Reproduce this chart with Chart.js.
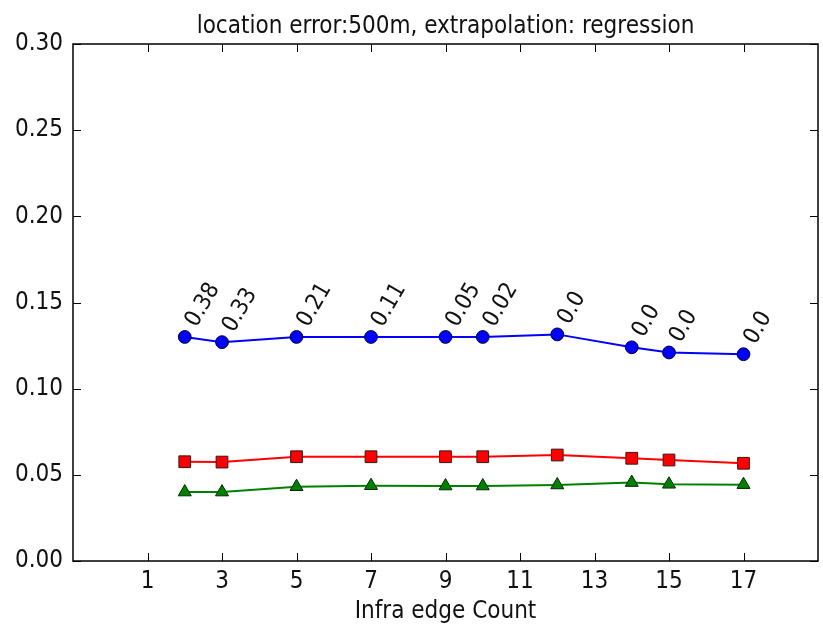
<!DOCTYPE html>
<html>
<head>
<meta charset="utf-8">
<script src="https://cdn.jsdelivr.net/npm/chart.js@4/dist/chart.umd.min.js"></script>
<style>
  html, body { margin: 0; padding: 0; background: #fff; }
  #wrap { width: 823px; height: 630px; }
</style>
</head>
<body>
<div id="wrap"><canvas id="myChart" width="823" height="630"></canvas></div>
<script>
// values
const edgeCounts = [2, 3, 5, 7, 9, 10, 12, 14, 15, 17];
const blueErr  = [0.130, 0.127, 0.130, 0.130, 0.130, 0.130, 0.1315, 0.124, 0.121, 0.120];
const redErr   = [0.0576, 0.0574, 0.0605, 0.0605, 0.0605, 0.0605, 0.0615, 0.0596, 0.0586, 0.0567];
const greenErr = [0.0400, 0.0400, 0.0431, 0.0437, 0.0435, 0.0435, 0.0441, 0.0455, 0.0445, 0.0443];
const pointLabels = ['0.38', '0.33', '0.21', '0.11', '0.05', '0.02', '0.0', '0.0', '0.0', '0.0'];
const xTickValues = [1, 3, 5, 7, 9, 11, 13, 15, 17];
const yTickValues = [0, 0.05, 0.10, 0.15, 0.20, 0.25, 0.30];
const chartTitle = 'location error:500m, extrapolation: regression';

const FONT = '"DejaVu Sans Condensed", "DejaVu Sans"';
const TEXT = '#111';

function coordinate(x, y) {
    this.x = x;
    this.y = y;
}

function makePoints(ys) {
    var pts = new Array();
    for (let i = 0; i < edgeCounts.length; i++) {
        pts.push(new coordinate(edgeCounts[i], ys[i]));
    }
    return pts;
}

// matplotlib style frame with inward ticks, title centred over the axes
const framePlugin = {
    id: 'frame',
    afterDatasetsDraw(chart) {
        const c = chart.ctx;
        const a = chart.chartArea;
        const xs = chart.scales.x, ys = chart.scales.y;
        c.save();
        c.strokeStyle = '#000';
        c.lineWidth = 1.5;
        c.strokeRect(a.left, a.top, a.right - a.left, a.bottom - a.top);
        c.lineWidth = 1;
        c.beginPath();
        xTickValues.forEach(v => {
            const px = Math.round(xs.getPixelForValue(v)) + 0.5;
            c.moveTo(px, a.bottom); c.lineTo(px, a.bottom - 8);
            c.moveTo(px, a.top); c.lineTo(px, a.top + 8);
        });
        yTickValues.forEach(v => {
            const py = Math.round(ys.getPixelForValue(v)) + 0.5;
            c.moveTo(a.left, py); c.lineTo(a.left + 8, py);
            c.moveTo(a.right, py); c.lineTo(a.right - 8, py);
        });
        c.stroke();

        c.font = '24px ' + FONT;
        c.fillStyle = TEXT;
        c.textAlign = 'center';
        c.textBaseline = 'alphabetic';
        c.fillText(chartTitle, (a.left + a.right) / 2, a.top - 11);
        c.restore();
    }
};

// rotated value labels above the blue line
const labelPlugin = {
    id: 'rotLabels',
    afterDatasetsDraw(chart) {
        const c = chart.ctx;
        const meta = chart.getDatasetMeta(0);
        const ang = 60 * Math.PI / 180;
        const h = 17;
        c.save();
        c.font = '23px ' + FONT;
        c.fillStyle = TEXT;
        c.textAlign = 'left';
        c.textBaseline = 'alphabetic';
        meta.data.forEach((pt, i) => {
            c.save();
            c.translate(pt.x + h * Math.sin(ang) - 3, pt.y - 9);
            c.rotate(-ang);
            c.fillText(pointLabels[i], 0, 0);
            c.restore();
        });
        c.restore();
    }
};

const ctx = document.getElementById('myChart');
const myChart = new Chart(ctx, {
    type: 'scatter',
    data: {
        datasets: [
            {
                data: makePoints(blueErr),
                borderColor: 'rgb(0, 0, 255)',
                backgroundColor: 'rgb(0, 0, 255)',
                pointBorderColor: 'rgba(0, 0, 50, 1)',
                pointBorderWidth: 1,
                borderWidth: 2,
                pointRadius: 6.4,
                pointStyle: 'circle',
                showLine: true,
            },
            {
                data: makePoints(redErr),
                borderColor: 'rgb(255, 0, 0)',
                backgroundColor: 'rgb(255, 0, 0)',
                pointBorderColor: 'rgba(60, 20, 20, 1)',
                pointBorderWidth: 1,
                borderWidth: 2,
                pointRadius: 8.3,
                pointStyle: 'rect',
                showLine: true,
            },
            {
                data: makePoints(greenErr),
                borderColor: 'rgb(0, 128, 0)',
                backgroundColor: 'rgb(0, 128, 0)',
                pointBorderColor: 'rgba(0, 40, 0, 1)',
                pointBorderWidth: 1,
                borderWidth: 2,
                pointRadius: 7.5,
                pointStyle: 'triangle',
                showLine: true,
            },
        ]
    },
    plugins: [framePlugin, labelPlugin],
    options: {
        responsive: false,
        animation: false,
        layout: {
            autoPadding: false,
            padding: { left: 0, right: 5, top: 44, bottom: 2 }
        },
        plugins: {
            legend: { display: false },
            tooltip: { enabled: false },
            title: { display: false },
        },
        scales: {
            x: {
                type: 'linear',
                min: -1,
                max: 19,
                afterBuildTicks: (scale) => {
                    scale.ticks = xTickValues.map(v => ({ value: v }));
                },
                afterFit: (scale) => {
                    scale.height = 67;
                    scale.paddingLeft = 0;
                    scale.paddingRight = 0;
                },
                grid: { display: false, drawTicks: false },
                border: { display: false },
                ticks: {
                    color: TEXT,
                    font: { family: FONT, size: 24 },
                    padding: 6,
                    maxRotation: 0,
                    autoSkip: false,
                },
                title: {
                    display: true,
                    text: 'Infra edge Count',
                    color: TEXT,
                    font: { family: FONT, size: 24 },
                    padding: { top: 0, bottom: 2 },
                },
            },
            y: {
                type: 'linear',
                min: 0,
                max: 0.3,
                afterBuildTicks: (scale) => {
                    scale.ticks = yTickValues.map(v => ({ value: v }));
                },
                afterFit: (scale) => { scale.width = 73; },
                grid: { display: false, drawTicks: false },
                border: { display: false },
                ticks: {
                    color: TEXT,
                    font: { family: FONT, size: 24 },
                    padding: 10,
                    callback: (v) => Number(v).toFixed(2),
                },
            }
        }
    }
});
</script>
</body>
</html>
